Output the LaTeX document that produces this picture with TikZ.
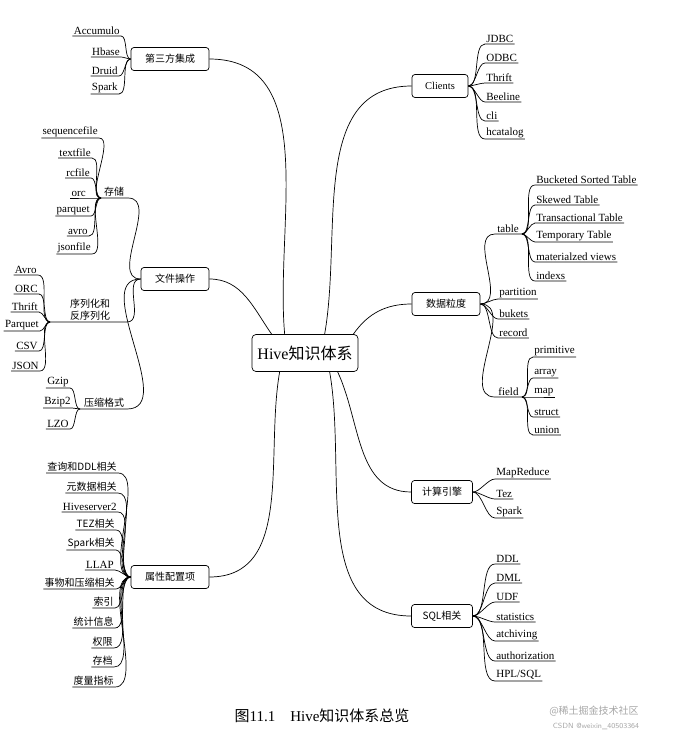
\documentclass[tikz,border=0pt]{standalone}
\usepackage{fontspec}
\setmainfont{Liberation Serif}
\newfontfamily\cjk{Noto Sans CJK SC}
\newcommand\LL[4]{\node[leaf,anchor=south east] (L-#2-#3) at (#2,#3+7) {#4};
  \draw (#1) to[out=180,in=0,looseness=0.7] (L-#2-#3.south east) -- (L-#2-#3.south west);}
\newcommand\RL[4]{\node[leaf,anchor=south west] (R-#2-#3) at (#2,#3+7) {#4};
  \draw (#1) to[out=0,in=180,looseness=0.7] (R-#2-#3.south west) -- (R-#2-#3.south east);}
\newcommand\cz{\cjk\fontsize{10}{12}\selectfont}
\begin{document}
\begin{tikzpicture}[x=1pt,y=-1pt,line width=0.7pt,
  leaf/.style={inner sep=1pt,font=\fontsize{11}{12}\selectfont},
  box/.style={draw,rounded corners=3pt,inner sep=0pt,minimum height=23,font=\cjk\fontsize{10}{12}\selectfont}]
\useasboundingbox (0,0) rectangle (674,739);
% center
\node[draw,rounded corners=4pt,minimum width=106,minimum height=37,inner sep=0pt,font=\fontsize{16}{18}\selectfont] (hive) at (305,353) {Hive{\cjk 知识体系}};
% level 1 boxes
\node[box,minimum width=78] (sf) at (170,59) {第三方集成};
\node[box,minimum width=68] (wj) at (175,279) {文件操作};
\node[box,minimum width=78] (sx) at (170,577) {属性配置项};
\node[box,minimum width=56,font=\fontsize{10.5}{12}\selectfont] (cl) at (440,86) {Clients};
\node[box,minimum width=68] (sj) at (446,304) {数据粒度};
\node[box,minimum width=61] (js) at (442,492) {计算引擎};
\node[box,minimum width=61] (sq) at (442,616) {SQL相关};
\draw (hive.north west)++(33,0) to[out=95,in=0] (sf.east);
\draw (hive.north west)++(20,0) to[out=125,in=0] (wj.east);
\draw (hive.south west)++(28,0) to[out=-100,in=0] (sx.east);
\draw (hive.north west)++(73,0) to[out=80,in=180] (cl.west);
\draw (hive.north east)++(-5,0) to[out=55,in=180] (sj.west);
\draw (hive.south west)++(86,0) to[out=-65,in=180] (js.west);
\draw (hive.south west)++(78,0) to[out=-80,in=180] (sq.west);
% 第三方集成
\LL{sf.west}{121}{29}{Accumulo}
\LL{sf.west}{121}{50}{Hbase}
\LL{sf.west}{119}{69}{Druid}
\LL{sf.west}{119}{87}{Spark}
% 存储
\node[leaf,anchor=south,font=\cz] (cc) at (114,198) {存储};
\coordinate (ccw) at (101,198); \coordinate (cce) at (128,198);
\draw (wj.west) to[out=180,in=0] (cce) -- (ccw);
\LL{ccw}{99}{131}{sequencefile}
\LL{ccw}{92}{151}{textfile}
\LL{ccw}{91}{171}{rcfile}
\LL{ccw}{87}{191}{orc}
\LL{ccw}{91}{209}{parquet}
\LL{ccw}{89}{229}{avro}
\LL{ccw}{92}{247}{jsonfile}
% 序列化
\node[leaf,anchor=south,align=center,font=\cz] (xl) at (90,322) {序列化和\\反序列化};
\coordinate (xlw) at (50,322); \coordinate (xle) at (127,322);
\draw (wj.west) to[out=180,in=0] (xle) -- (xlw);
\LL{xlw}{38}{268}{Avro}
\LL{xlw}{39}{287}{ORC}
\LL{xlw}{39}{305}{Thrift}
\LL{xlw}{40}{324}{Parquet}
\LL{xlw}{39}{344}{CSV}
\LL{xlw}{40}{364}{JSON}
% 压缩格式
\node[leaf,anchor=south,font=\cz] (ys) at (104,409) {压缩格式};
\coordinate (ysw) at (80,409); \coordinate (yse) at (127,409);
\draw (wj.west) to[out=180,in=0] (yse) -- (ysw);
\LL{ysw}{70}{381}{Gzip}
\LL{ysw}{72}{401}{Bzip2}
\LL{ysw}{70}{422}{LZO}
% 属性配置项
\LL{sx.west}{118}{466}{\cz 查询和DDL相关}
\LL{sx.west}{118}{486}{\cz 元数据相关}
\LL{sx.west}{118}{505}{Hiveserver2}
\LL{sx.west}{116}{523}{\cz TEZ相关}
\LL{sx.west}{116}{543}{\cz Spark相关}
\LL{sx.west}{115}{563}{LLAP}
\LL{sx.west}{116}{582}{\cz 事物和压缩相关}
\LL{sx.west}{115}{601}{\cz 索引}
\LL{sx.west}{115}{621}{\cz 统计信息}
\LL{sx.west}{114}{641}{\cz 权限}
\LL{sx.west}{114}{660}{\cz 存档}
\LL{sx.west}{115}{680}{\cz 度量指标}
% Clients
\RL{cl.east}{485}{37}{JDBC}
\RL{cl.east}{485}{56}{ODBC}
\RL{cl.east}{485}{76}{Thrift}
\RL{cl.east}{485}{95}{Beeline}
\RL{cl.east}{485}{114}{cli}
\RL{cl.east}{485}{132}{hcatalog}
% 数据粒度 : table
\node[leaf,anchor=south west] (tb) at (496,234) {table};
\coordinate (tbw) at (495,234); \coordinate (tbe) at (522,234);
\draw (sj.east) to[out=0,in=180] (tbw) -- (tbe);
\RL{tbe}{535}{178}{Bucketed Sorted Table}
\RL{tbe}{535}{198}{Skewed Table}
\RL{tbe}{535}{216}{Transactional Table}
\RL{tbe}{535}{235}{Temporary Table}
\RL{tbe}{535}{255}{materialzed views}
\RL{tbe}{535}{274}{indexs}
\RL{sj.east}{498}{292}{partition}
\RL{sj.east}{498}{312}{bukets}
\RL{sj.east}{498}{331}{record}
\node[leaf,anchor=south west] (fd) at (497,397) {field};
\coordinate (fdw) at (495,397); \coordinate (fde) at (522,397);
\draw (sj.east) to[out=0,in=180] (fdw) -- (fde);
\RL{fde}{533}{350}{primitive}
\RL{fde}{533}{371}{array}
\RL{fde}{533}{390}{map}
\RL{fde}{533}{410}{struct}
\RL{fde}{533}{428}{union}
% 计算引擎
\RL{js.east}{495}{472}{MapReduce}
\RL{js.east}{495}{492}{Tez}
\RL{js.east}{495}{511}{Spark}
% SQL相关
\RL{sq.east}{495}{557}{DDL}
\RL{sq.east}{495}{576}{DML}
\RL{sq.east}{495}{595}{UDF}
\RL{sq.east}{495}{615}{statistics}
\RL{sq.east}{495}{634}{atchiving}
\RL{sq.east}{495}{654}{authorization}
\RL{sq.east}{495}{674}{HPL/SQL}
% caption
\node[font=\fontsize{15}{17}\selectfont] (cap) at (322,716) {{\cjk 图}11.1\quad Hive{\cjk 知识体系总览}};
\node[text=gray!70,font=\cjk\fontsize{10}{12}\selectfont] (wm1) at (594,711) {@稀土掘金技术社区};
\node[text=gray!70,font=\sffamily\fontsize{7.5}{9}\selectfont] (wm2) at (596,726) {CSDN @weixin\_40503364};
\end{tikzpicture}
\end{document}
